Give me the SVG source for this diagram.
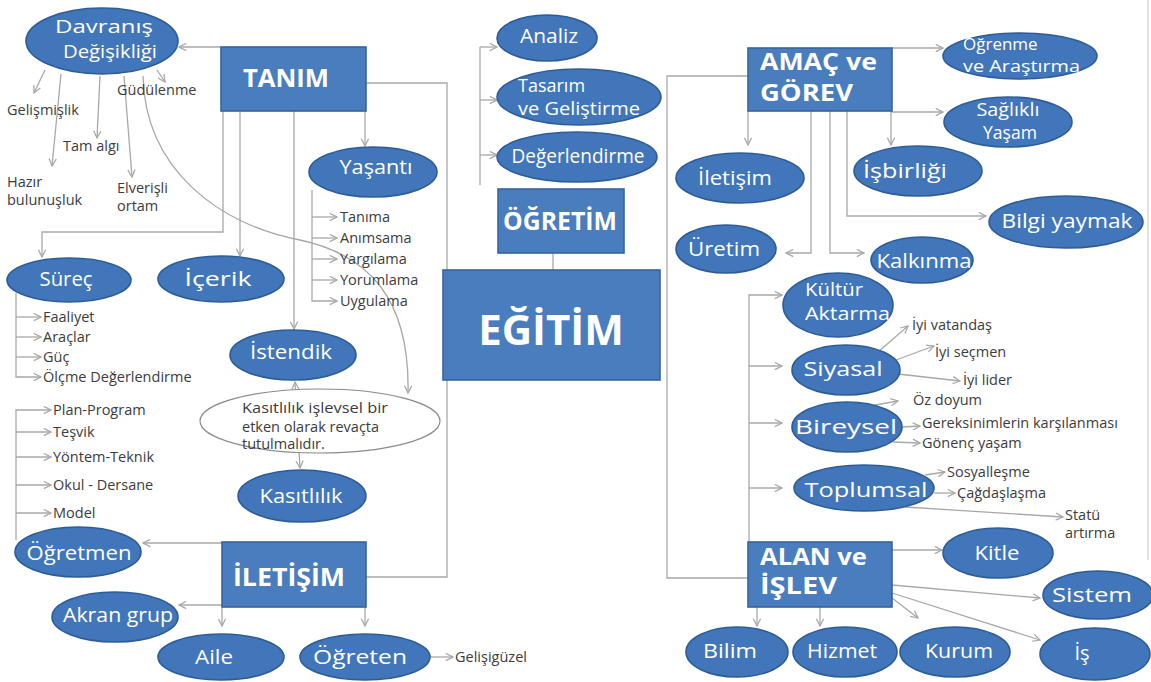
<svg xmlns="http://www.w3.org/2000/svg" width="1151" height="682" viewBox="0 0 1151 682">
<style>
.bg{fill:#ffffff}
.nd ellipse{fill:#4276ba;stroke:#2d5c97;stroke-width:1.6}
.nd rect{fill:#4a7dbd;stroke:#35659f;stroke-width:1.6}
.el{fill:#ffffff;font-family:"Open Sans","Noto Sans",sans-serif;font-weight:500;font-size:20px;text-anchor:middle}
.els{fill:#ffffff;font-family:"Open Sans","Noto Sans",sans-serif;font-weight:500;font-size:19px}
.bx{fill:#ffffff;font-family:"Open Sans","Noto Sans",sans-serif;font-weight:700;font-size:25px}
.lb{fill:#3c3c3c;font-family:"Open Sans","Noto Sans",sans-serif;font-size:14.5px}
.cn path{fill:none;stroke:#a8a8a8;stroke-width:1.3}
.note ellipse{fill:#ffffff;stroke:#8a8a8a;stroke-width:1.2}
</style>
<defs>
<marker id="ar" viewBox="0 0 10 10" refX="9" refY="5" markerWidth="9" markerHeight="9" markerUnits="userSpaceOnUse" orient="auto-start-reverse">
<path d="M1,1 L9,5 L1,9" fill="none" stroke="#a8a8a8" stroke-width="1.4"/>
</marker>
</defs>
<rect class="bg" x="0" y="0" width="1151" height="682"/>

<g id="connectors" class="cn">
<path d="M1148,0 V560" style="stroke:#d2d2d2"/>
<!-- Davranis children -->
<path d="M45,70 L34,93" marker-end="url(#ar)"/>
<path d="M61,74 L52,166" marker-end="url(#ar)"/>
<path d="M100,76 L97,138" marker-end="url(#ar)"/>
<path d="M124,76 L132,177" marker-end="url(#ar)"/>
<path d="M157,70 L165,82" marker-end="url(#ar)"/>
<path d="M143,76 C145,170 220,225 300,240 C370,255 410,300 408,393" marker-end="url(#ar)"/>
<!-- TANIM -->
<path d="M221,47 H179" marker-end="url(#ar)"/>
<path d="M366,83 H447 V577 H366"/>
<path d="M223,111 V232 H42 V257" marker-end="url(#ar)"/>
<path d="M240,111 V256" marker-end="url(#ar)"/>
<path d="M294,111 V329" marker-end="url(#ar)"/>
<path d="M365,111 V146" marker-end="url(#ar)"/>
<!-- Yasanti items -->
<path d="M312,190 V301 H337" marker-end="url(#ar)"/>
<path d="M312,217 H337" marker-end="url(#ar)"/>
<path d="M312,238 H337" marker-end="url(#ar)"/>
<path d="M312,259 H337" marker-end="url(#ar)"/>
<path d="M312,280 H337" marker-end="url(#ar)"/>
<!-- Surec items -->
<path d="M16,293 V377 H41" marker-end="url(#ar)"/>
<path d="M16,317 H41" marker-end="url(#ar)"/>
<path d="M16,337 H41" marker-end="url(#ar)"/>
<path d="M16,357 H41" marker-end="url(#ar)"/>
<!-- Ogretmen items -->
<path d="M16,540 V410 H51" marker-end="url(#ar)"/>
<path d="M16,432 H51" marker-end="url(#ar)"/>
<path d="M16,457 H51" marker-end="url(#ar)"/>
<path d="M16,485 H51" marker-end="url(#ar)"/>
<path d="M16,513 H51" marker-end="url(#ar)"/>
<!-- Istendik - Kasitlilik -->
<path d="M295,382 L300,468" marker-start="url(#ar)" marker-end="url(#ar)"/>
<!-- ILETISIM -->
<path d="M222,543 H143" marker-end="url(#ar)"/>
<path d="M222,605 H179" marker-end="url(#ar)"/>
<path d="M222,607 V626" marker-end="url(#ar)"/>
<path d="M365,607 V626" marker-end="url(#ar)"/>
<path d="M430,657 H453" marker-end="url(#ar)"/>
<!-- OGRETIM -->
<path d="M553,253 V270"/>
<path d="M480,47 V185"/>
<path d="M480,47 H497" marker-end="url(#ar)"/>
<path d="M480,100 H497" marker-end="url(#ar)"/>
<path d="M480,155 H497" marker-end="url(#ar)"/>
<!-- AMAC ve GOREV -->
<path d="M748,76 H667 V578 H748"/>
<path d="M892,48 H943" marker-end="url(#ar)"/>
<path d="M892,112 H943" marker-end="url(#ar)"/>
<path d="M748,111 V145" marker-end="url(#ar)"/>
<path d="M891,111 V145" marker-end="url(#ar)"/>
<path d="M811,111 V253 H786" marker-end="url(#ar)"/>
<path d="M830,111 V253 H864" marker-end="url(#ar)"/>
<path d="M847,111 V216 H986" marker-end="url(#ar)"/>
<!-- right bracket -->
<path d="M749,542 V295 H782" marker-end="url(#ar)"/>
<path d="M749,366 H782" marker-end="url(#ar)"/>
<path d="M749,423 H782" marker-end="url(#ar)"/>
<path d="M749,488 H782" marker-end="url(#ar)"/>
<!-- Siyasal -->
<path d="M878,352 L908,326" marker-end="url(#ar)"/>
<path d="M896,360 L934,346" marker-end="url(#ar)"/>
<path d="M898,374 L960,381" marker-end="url(#ar)"/>
<!-- Bireysel -->
<path d="M875,405 L898,401" marker-end="url(#ar)"/>
<path d="M902,427 L920,426" marker-end="url(#ar)"/>
<path d="M893,442 L920,443" marker-end="url(#ar)"/>
<!-- Toplumsal -->
<path d="M925,475 L945,472" marker-end="url(#ar)"/>
<path d="M934,493 L955,493" marker-end="url(#ar)"/>
<path d="M905,507 L1063,517" marker-end="url(#ar)"/>
<!-- ALAN ve ISLEV -->
<path d="M892,550 H942" marker-end="url(#ar)"/>
<path d="M892,585 L1040,598" marker-end="url(#ar)"/>
<path d="M892,593 L1040,640" marker-end="url(#ar)"/>
<path d="M892,598 L918,618" marker-end="url(#ar)"/>
<path d="M757,607 V626" marker-end="url(#ar)"/>
<path d="M820,607 V626" marker-end="url(#ar)"/>
</g>

<!-- rectangles -->
<g id="tanim" class="nd"><rect x="221" y="47" width="145" height="64"/><text class="bx" x="243" y="87" textLength="86" lengthAdjust="spacingAndGlyphs">TANIM</text></g>
<g id="ogretim" class="nd"><rect x="498" y="189" width="126" height="64"/><text class="bx" x="503" y="230" textLength="114" lengthAdjust="spacingAndGlyphs">ÖĞRETİM</text></g>
<g id="egitim" class="nd"><rect x="443" y="270" width="217" height="110"/><text class="bx" x="551" y="345" style="font-size:42px;text-anchor:middle">EĞİTİM</text></g>
<g id="amac" class="nd"><rect x="748" y="48" width="144" height="63"/><text class="bx" x="760" y="70" style="font-size:23px" textLength="117" lengthAdjust="spacingAndGlyphs">AMAÇ ve</text><text class="bx" x="760" y="101" style="font-size:23px" textLength="93" lengthAdjust="spacingAndGlyphs">GÖREV</text></g>
<g id="iletisim" class="nd"><rect x="222" y="542" width="144" height="65"/><text class="bx" x="233" y="586" textLength="112" lengthAdjust="spacingAndGlyphs">İLETİŞİM</text></g>
<g id="alan" class="nd"><rect x="748" y="542" width="144" height="65"/><text class="bx" x="760" y="565" style="font-size:23px" textLength="107" lengthAdjust="spacingAndGlyphs">ALAN ve</text><text class="bx" x="760" y="594" style="font-size:23px" textLength="77" lengthAdjust="spacingAndGlyphs">İŞLEV</text></g>

<!-- ellipses -->
<g id="davranis" class="nd"><ellipse cx="102" cy="41" rx="76" ry="33"/><text class="el" x="104" y="33" style="font-size:18px" textLength="98" lengthAdjust="spacingAndGlyphs">Davranış</text><text class="el" x="110" y="58" style="font-size:18px" textLength="94" lengthAdjust="spacingAndGlyphs">Değişikliği</text></g>
<g id="yasanti" class="nd"><ellipse cx="373" cy="172" rx="64" ry="25"/><text class="el" x="376" y="174" textLength="73" lengthAdjust="spacingAndGlyphs">Yaşantı</text></g>
<g id="analiz" class="nd"><ellipse cx="547" cy="38" rx="50" ry="23"/><text class="el" x="549" y="43" textLength="58" lengthAdjust="spacingAndGlyphs">Analiz</text></g>
<g id="tasarim" class="nd"><ellipse cx="579" cy="97" rx="82" ry="28"/><text class="els" x="518" y="92" style="font-size:18px">Tasarım</text><text class="els" x="518" y="115" style="font-size:18px" textLength="122" lengthAdjust="spacingAndGlyphs">ve Geliştirme</text></g>
<g id="degerlendirme" class="nd"><ellipse cx="577" cy="157" rx="80" ry="25"/><text class="el" x="578" y="163" textLength="133" lengthAdjust="spacingAndGlyphs">Değerlendirme</text></g>
<g id="ogrenme" class="nd"><ellipse cx="1020" cy="56" rx="77" ry="23"/><text class="els" x="963" y="50" style="font-size:17px">Öğrenme</text><text class="els" x="963" y="72" style="font-size:17px" textLength="117" lengthAdjust="spacingAndGlyphs">ve Araştırma</text></g>
<g id="saglikli" class="nd"><ellipse cx="1008" cy="122" rx="64" ry="25"/><text class="el" x="1008" y="116" style="font-size:18px" textLength="63" lengthAdjust="spacingAndGlyphs">Sağlıklı</text><text class="el" x="1010" y="139" style="font-size:18px" textLength="54" lengthAdjust="spacingAndGlyphs">Yaşam</text></g>
<g id="isbirligi" class="nd"><ellipse cx="918" cy="171" rx="64" ry="25"/><text class="el" x="905" y="178" textLength="84" lengthAdjust="spacingAndGlyphs">İşbirliği</text></g>
<g id="bilgi" class="nd"><ellipse cx="1066" cy="222" rx="77" ry="26"/><text class="el" x="1067" y="228" textLength="131" lengthAdjust="spacingAndGlyphs">Bilgi yaymak</text></g>
<g id="iletisim-amac" class="nd"><ellipse cx="740" cy="178" rx="64" ry="25"/><text class="el" x="735" y="185" textLength="74" lengthAdjust="spacingAndGlyphs">İletişim</text></g>
<g id="uretim" class="nd"><ellipse cx="726" cy="249" rx="50" ry="24"/><text class="el" x="724" y="256" textLength="72" lengthAdjust="spacingAndGlyphs">Üretim</text></g>
<g id="kalkinma" class="nd"><ellipse cx="922" cy="260" rx="51" ry="23"/><text class="el" x="924" y="268" textLength="95" lengthAdjust="spacingAndGlyphs">Kalkınma</text></g>
<g id="kultur" class="nd"><ellipse cx="838" cy="305" rx="55" ry="32"/><text class="els" x="805" y="296" textLength="58" lengthAdjust="spacingAndGlyphs">Kültür</text><text class="els" x="805" y="320" textLength="85" lengthAdjust="spacingAndGlyphs">Aktarma</text></g>
<g id="siyasal" class="nd"><ellipse cx="846" cy="370" rx="54" ry="25"/><text class="el" x="843" y="376" textLength="79" lengthAdjust="spacingAndGlyphs">Siyasal</text></g>
<g id="bireysel" class="nd"><ellipse cx="847" cy="427" rx="55" ry="25"/><text class="el" x="846" y="434" textLength="102" lengthAdjust="spacingAndGlyphs">Bireysel</text></g>
<g id="toplumsal" class="nd"><ellipse cx="864" cy="488" rx="70" ry="23"/><text class="el" x="866" y="497" textLength="123" lengthAdjust="spacingAndGlyphs">Toplumsal</text></g>
<g id="kitle" class="nd"><ellipse cx="998" cy="553" rx="55" ry="25"/><text class="el" x="997" y="560" textLength="45" lengthAdjust="spacingAndGlyphs">Kitle</text></g>
<g id="sistem" class="nd"><ellipse cx="1098" cy="595" rx="55" ry="24"/><text class="el" x="1092" y="602" textLength="80" lengthAdjust="spacingAndGlyphs">Sistem</text></g>
<g id="bilim" class="nd"><ellipse cx="737" cy="652" rx="51" ry="25"/><text class="el" x="730" y="658" textLength="54" lengthAdjust="spacingAndGlyphs">Bilim</text></g>
<g id="hizmet" class="nd"><ellipse cx="845" cy="652" rx="52" ry="25"/><text class="el" x="842" y="658" textLength="70" lengthAdjust="spacingAndGlyphs">Hizmet</text></g>
<g id="kurum" class="nd"><ellipse cx="955" cy="652" rx="55" ry="25"/><text class="el" x="959" y="658" textLength="68" lengthAdjust="spacingAndGlyphs">Kurum</text></g>
<g id="is" class="nd"><ellipse cx="1095" cy="654" rx="55" ry="26"/><text class="el" x="1082" y="660">İş</text></g>
<g id="surec" class="nd"><ellipse cx="69" cy="280" rx="62" ry="22"/><text class="el" x="66" y="286" textLength="53" lengthAdjust="spacingAndGlyphs">Süreç</text></g>
<g id="icerik" class="nd"><ellipse cx="221" cy="279" rx="63" ry="23"/><text class="el" x="218" y="286" textLength="67" lengthAdjust="spacingAndGlyphs">İçerik</text></g>
<g id="istendik" class="nd"><ellipse cx="293" cy="355" rx="63" ry="25"/><text class="el" x="291" y="359" textLength="82" lengthAdjust="spacingAndGlyphs">İstendik</text></g>
<g id="not" class="note"><ellipse cx="320" cy="421" rx="120" ry="32"/><text class="lb" x="242" y="413" textLength="146" lengthAdjust="spacingAndGlyphs">Kasıtlılık işlevsel bir</text><text class="lb" x="242" y="432">etken olarak revaçta</text><text class="lb" x="242" y="449">tutulmalıdır.</text></g>
<g id="kasitlilik" class="nd"><ellipse cx="302" cy="496" rx="64" ry="26"/><text class="el" x="301" y="503" textLength="83" lengthAdjust="spacingAndGlyphs">Kasıtlılık</text></g>
<g id="ogretmen" class="nd"><ellipse cx="78" cy="552" rx="63" ry="25"/><text class="el" x="79" y="560" textLength="105" lengthAdjust="spacingAndGlyphs">Öğretmen</text></g>
<g id="akran" class="nd"><ellipse cx="115" cy="617" rx="63" ry="25"/><text class="el" x="118" y="622" textLength="110" lengthAdjust="spacingAndGlyphs">Akran grup</text></g>
<g id="aile" class="nd"><ellipse cx="221" cy="657" rx="63" ry="23"/><text class="el" x="214" y="664" textLength="38" lengthAdjust="spacingAndGlyphs">Aile</text></g>
<g id="ogreten" class="nd"><ellipse cx="365" cy="657" rx="65" ry="23"/><text class="el" x="360" y="664" textLength="94" lengthAdjust="spacingAndGlyphs">Öğreten</text></g>

<!-- plain labels -->
<g id="labels">
<text class="lb" x="117" y="95">Güdülenme</text>
<text class="lb" x="7" y="115">Gelişmişlik</text>
<text class="lb" x="63" y="151">Tam algı</text>
<text class="lb" x="7" y="187">Hazır</text>
<text class="lb" x="7" y="205">bulunuşluk</text>
<text class="lb" x="117" y="193">Elverişli</text>
<text class="lb" x="117" y="211">ortam</text>
<text class="lb" x="340" y="222">Tanıma</text>
<text class="lb" x="340" y="243">Anımsama</text>
<text class="lb" x="340" y="264">Yargılama</text>
<text class="lb" x="340" y="285">Yorumlama</text>
<text class="lb" x="340" y="306">Uygulama</text>
<text class="lb" x="43" y="322">Faaliyet</text>
<text class="lb" x="43" y="342">Araçlar</text>
<text class="lb" x="43" y="362">Güç</text>
<text class="lb" x="43" y="382">Ölçme Değerlendirme</text>
<text class="lb" x="53" y="415">Plan-Program</text>
<text class="lb" x="53" y="437">Teşvik</text>
<text class="lb" x="53" y="462">Yöntem-Teknik</text>
<text class="lb" x="53" y="490">Okul - Dersane</text>
<text class="lb" x="53" y="518">Model</text>
<text class="lb" x="455" y="662">Gelişigüzel</text>
<text class="lb" x="912" y="330">İyi vatandaş</text>
<text class="lb" x="935" y="357">İyi seçmen</text>
<text class="lb" x="963" y="385">İyi lider</text>
<text class="lb" x="913" y="405">Öz doyum</text>
<text class="lb" x="922" y="428">Gereksinimlerin karşılanması</text>
<text class="lb" x="922" y="448">Gönenç yaşam</text>
<text class="lb" x="947" y="477">Sosyalleşme</text>
<text class="lb" x="957" y="498">Çağdaşlaşma</text>
<text class="lb" x="1065" y="520">Statü</text>
<text class="lb" x="1065" y="538">artırma</text>
</g>
</svg>
